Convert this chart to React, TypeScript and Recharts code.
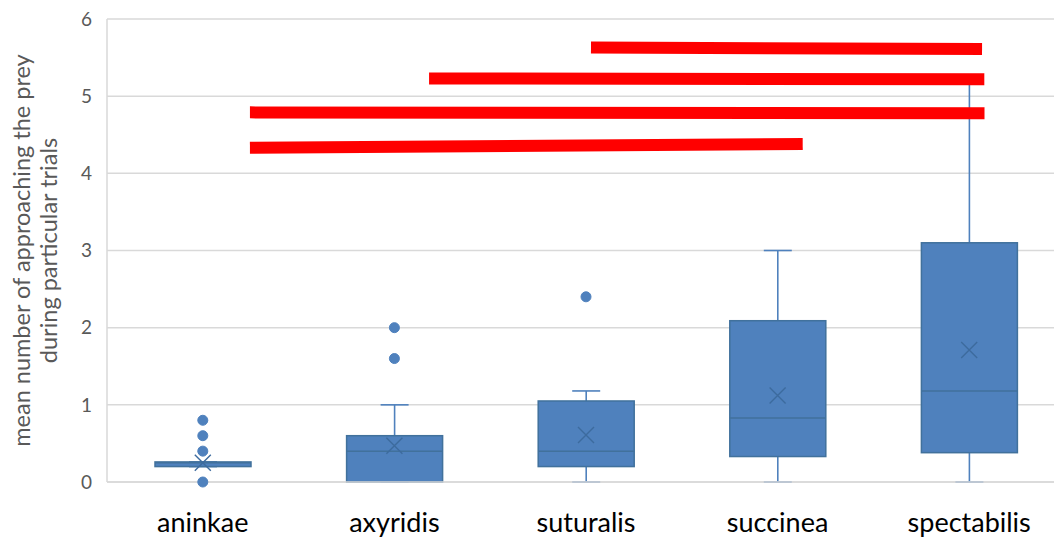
import { Bar, CartesianGrid, ComposedChart, Line, ReferenceLine, XAxis, YAxis } from "recharts";

// species groups along the x axis
const species = ["aninkae", "axyridis", "suturalis", "succinea", "spectabilis"];

// box plot summary per species
const lowWhisker = [0.2, 0, 0, 0, 0];
const firstQuartile = [0.2, 0, 0.2, 0.33, 0.38];
const medians = [0.25, 0.4, 0.4, 0.83, 1.18];
const thirdQuartile = [0.26, 0.6, 1.05, 2.09, 3.1];
const highWhisker = [0.26, 1.0, 1.18, 3.0, 5.2];
const means = [0.25, 0.47, 0.61, 1.12, 1.71];
const outliers: number[][] = [[0.8, 0.6, 0.4, 0], [2.0, 1.6], [2.4], [], []];

// significance bars (x in group index units, y at each end)
const sigFrom = [2.026, 1.181, 0.246, 0.246];
const sigTo = [4.067, 4.079, 4.08, 3.131];
const sigStartY = [5.63, 5.23, 4.79, 4.33];
const sigEndY = [5.61, 5.22, 4.78, 4.38];

const yTicks = [0, 1, 2, 3, 4, 5, 6];

const BOX_FILL = "#4f81bd";
const BOX_EDGE = "#41719c";
const FONT = "Lato, 'Open Sans', sans-serif";

const rows = species.map((name, i) => ({
  name,
  idx: i,
  range: [lowWhisker[i], highWhisker[i]],
  q1: firstQuartile[i],
  median: medians[i],
  q3: thirdQuartile[i],
  lo: lowWhisker[i],
  hi: highWhisker[i],
  mean: means[i],
  o0: outliers[i][0] ?? null,
  o1: outliers[i][1] ?? null,
  o2: outliers[i][2] ?? null,
  o3: outliers[i][3] ?? null,
}));

// whisker-to-whisker bar, box and median interpolated on the same linear scale
const BoxShape = (props: any) => {
  const { x, y, width, height, payload } = props;
  const { lo, hi, q1, q3, median } = payload;
  const py = (v: number) => (hi === lo ? y : y + ((hi - v) / (hi - lo)) * height);
  const cx = x + width / 2;
  const cap = 14;
  return (
    <g>
      <line x1={cx} x2={cx} y1={py(hi)} y2={py(q3)} stroke={BOX_FILL} strokeWidth={1.6} />
      <line x1={cx} x2={cx} y1={py(q1)} y2={py(lo)} stroke={BOX_FILL} strokeWidth={1.6} />
      <line x1={cx - cap} x2={cx + cap} y1={py(hi)} y2={py(hi)} stroke={BOX_FILL} strokeWidth={1.6} />
      <line x1={cx - cap} x2={cx + cap} y1={py(lo)} y2={py(lo)} stroke={BOX_FILL} strokeWidth={1.6} />
      <rect
        x={x}
        y={py(q3)}
        width={width}
        height={Math.max(py(q1) - py(q3), 1)}
        fill={BOX_FILL}
        stroke={BOX_EDGE}
        strokeWidth={1.5}
      />
      <line x1={x} x2={x + width} y1={py(median)} y2={py(median)} stroke={BOX_EDGE} strokeWidth={1.5} />
    </g>
  );
};

const MeanMark = (props: any) => {
  const { cx, cy } = props;
  if (cx == null || cy == null) return null;
  const s = 8;
  return (
    <path
      d={`M${cx - s},${cy - s}L${cx + s},${cy + s}M${cx - s},${cy + s}L${cx + s},${cy - s}`}
      stroke="#3d6b9e"
      strokeWidth={1.4}
      fill="none"
    />
  );
};

const AxisTitle = (props: any) => {
  const { viewBox } = props;
  const cy = viewBox.y + viewBox.height / 2;
  return (
    <text
      transform={`translate(0, ${cy}) rotate(-90)`}
      textAnchor="middle"
      fill="#595959"
      fontSize={23.5}
      fontFamily={FONT}
    >
      <tspan x={0} y={30}>mean number of approaching the prey</tspan>
      <tspan x={0} y={57}>during particular trials</tspan>
    </text>
  );
};

export default function App() {
  return (
    <div
      style={{
        position: "absolute",
        left: 0,
        top: 0,
        width: 1054,
        height: 538,
        overflow: "hidden",
        background: "#fff",
        fontFamily: FONT,
      }}
    >
      <ComposedChart width={1065} height={538} data={rows} margin={{ top: 19, right: 0, bottom: 0, left: 0 }}>
        <CartesianGrid vertical={false} stroke="#d9d9d9" strokeWidth={1.5} />
        <XAxis
          dataKey="name"
          height={56}
          axisLine={{ stroke: "#d9d9d9", strokeWidth: 1.5 }}
          tickLine={false}
          tickMargin={25}
          tick={{ fill: "#000", fontSize: 27, fontFamily: FONT }}
        />
        <XAxis
          xAxisId="num"
          dataKey="idx"
          type="number"
          domain={[-0.5, 4.5]}
          allowDataOverflow
          padding={{ left: 0, right: 0 }}
          hide
        />
        <YAxis
          width={107}
          domain={[0, 6]}
          ticks={yTicks}
          axisLine={{ stroke: "#d9d9d9", strokeWidth: 1.5 }}
          tickLine={false}
          tickMargin={9}
          tick={{ fill: "#595959", fontSize: 19, fontFamily: FONT }}
          label={{ content: <AxisTitle /> }}
        />
        <Bar dataKey="range" barSize={96} shape={<BoxShape />} isAnimationActive={false} />
        <Line dataKey="mean" stroke="none" dot={<MeanMark />} activeDot={false} isAnimationActive={false} />
        {["o0", "o1", "o2", "o3"].map((k) => (
          <Line
            key={k}
            dataKey={k}
            stroke="none"
            dot={{ r: 5, fill: BOX_FILL, stroke: BOX_FILL, strokeWidth: 1 }}
            activeDot={false}
            isAnimationActive={false}
          />
        ))}
        {sigFrom.map((from, i) => (
          <ReferenceLine
            key={i}
            xAxisId="num"
            ifOverflow="visible"
            segment={[
              { x: from, y: sigStartY[i] },
              { x: sigTo[i], y: sigEndY[i] },
            ]}
            stroke="#ff0000"
            strokeWidth={12}
          />
        ))}
      </ComposedChart>
    </div>
  );
}
